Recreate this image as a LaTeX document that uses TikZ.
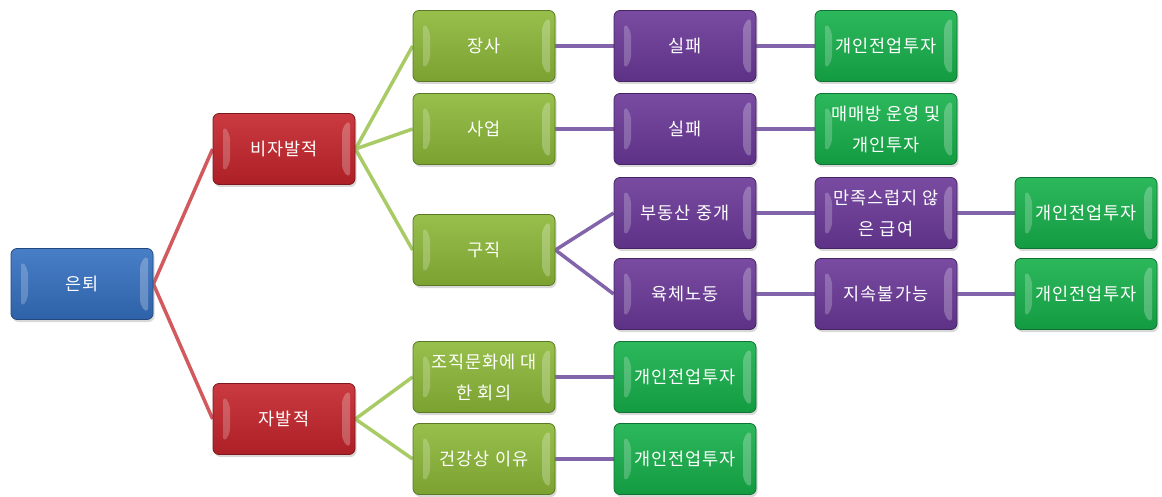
\documentclass[tikz,border=0pt]{standalone}
\usepackage{fontspec}
\newfontfamily\kr[LetterSpace=6]{Noto Sans CJK KR}
\usetikzlibrary{calc,backgrounds,shadows}
\definecolor{cblue}{HTML}{3470C0}
\definecolor{cred}{HTML}{C4242B}
\definecolor{clime}{HTML}{8CB838}
\definecolor{cpurple}{HTML}{6A3898}
\definecolor{cgreen}{HTML}{16B04A}
\definecolor{lred}{HTML}{D25A5E}
\definecolor{llime}{HTML}{A9CB66}
\definecolor{lpurple}{HTML}{8264AA}
\tikzset{
  bevelfx/.style={path picture={
    \fill[white,opacity=.22] ($(path picture bounding box.north west)+(10pt,-12pt)$) -- ($(path picture bounding box.north west)+(17pt,-20pt)$) -- ($(path picture bounding box.south west)+(17pt,20pt)$) -- ($(path picture bounding box.south west)+(10pt,12pt)$) -- cycle;
    \fill[white,opacity=.25] ($(path picture bounding box.north east)+(-5pt,-6pt)$) -- ($(path picture bounding box.north east)+(-13pt,-14pt)$) -- ($(path picture bounding box.south east)+(-13pt,14pt)$) -- ($(path picture bounding box.south east)+(-5pt,6pt)$) -- cycle;
  }},
  box/.style={rounded corners=6pt, minimum width=142pt, minimum height=71pt, inner sep=1pt, align=center, text=white, font=\kr\fontsize{17.5}{31}\selectfont, draw=#1!65!black, line width=.8pt, top color=#1!90!white, bottom color=#1!88!black, bevelfx, drop shadow={shadow xshift=1.5pt, shadow yshift=-2.5pt, opacity=.3}},
  link/.style={line width=3.5pt, draw=#1},
}
\begin{document}
\begin{tikzpicture}[x=1pt,y=-1pt]
\path[use as bounding box] (0,0) rectangle (1162,497);
\node[box=cblue] (r) at (82,284) {은퇴};
\node[box=cred] (a) at (284,149) {비자발적};
\node[box=cred] (b) at (284,419) {자발적};
\node[box=clime] (a1) at (484,46) {장사};
\node[box=clime] (a2) at (484,129) {사업};
\node[box=clime] (a3) at (484,250) {구직};
\node[box=clime] (b1) at (484,377) {조직문화에 대\\한 회의};
\node[box=clime] (b2) at (484,459) {건강상 이유};
\node[box=cpurple] (a1x) at (685,46) {실패};
\node[box=cpurple] (a2x) at (685,129) {실패};
\node[box=cpurple] (a3a) at (685,213) {부동산 중개};
\node[box=cpurple] (a3b) at (685,294) {육체노동};
\node[box=cgreen] (b1x) at (685,377) {개인전업투자};
\node[box=cgreen] (b2x) at (685,459) {개인전업투자};
\node[box=cgreen] (a1y) at (886,46) {개인전업투자};
\node[box=cgreen] (a2y) at (886,129) {매매방 운영 및\\개인투자};
\node[box=cpurple] (a3ay) at (886,213) {만족스럽지 않\\은 급여};
\node[box=cpurple] (a3by) at (886,294) {지속불가능};
\node[box=cgreen] (a3az) at (1086,213) {개인전업투자};
\node[box=cgreen] (a3bz) at (1086,294) {개인전업투자};
\begin{scope}[on background layer]
\fill[white] (0,0) rectangle (1162,497);
\draw[link=lred] (r.east) -- (a.west);
\draw[link=lred] (r.east) -- (b.west);
\draw[link=llime] (a.east) -- (a1.west);
\draw[link=llime] (a.east) -- (a2.west);
\draw[link=llime] (a.east) -- (a3.west);
\draw[link=llime] (b.east) -- (b1.west);
\draw[link=llime] (b.east) -- (b2.west);
\draw[link=lpurple] (a1.east) -- (a1x.west);
\draw[link=lpurple] (a2.east) -- (a2x.west);
\draw[link=lpurple] (a3.east) -- (a3a.west);
\draw[link=lpurple] (a3.east) -- (a3b.west);
\draw[link=lpurple] (b1.east) -- (b1x.west);
\draw[link=lpurple] (b2.east) -- (b2x.west);
\draw[link=lpurple] (a1x.east) -- (a1y.west);
\draw[link=lpurple] (a2x.east) -- (a2y.west);
\draw[link=lpurple] (a3a.east) -- (a3ay.west);
\draw[link=lpurple] (a3b.east) -- (a3by.west);
\draw[link=lpurple] (a3ay.east) -- (a3az.west);
\draw[link=lpurple] (a3by.east) -- (a3bz.west);
\end{scope}
\end{tikzpicture}
\end{document}
